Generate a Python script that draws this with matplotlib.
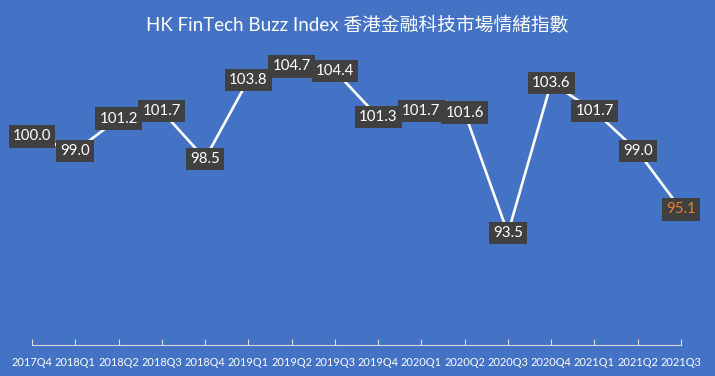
import matplotlib
matplotlib.use("Agg")
import matplotlib.pyplot as plt

quarters = ["2017Q4", "2018Q1", "2018Q2", "2018Q3", "2018Q4", "2019Q1", "2019Q2",
            "2019Q3", "2019Q4", "2020Q1", "2020Q2", "2020Q3", "2020Q4", "2021Q1",
            "2021Q2", "2021Q3"]
index_values = [100.0, 99.0, 101.2, 101.7, 98.5, 103.8, 104.7, 104.4, 101.3, 101.7,
                101.6, 93.5, 103.6, 101.7, 99.0, 95.1]

bg = "#4472C4"
fig = plt.figure(figsize=(7.15, 3.76), dpi=100, facecolor=bg)
ax = fig.add_axes([32/715, 31/376, 649/715, 298/376])
ax.set_facecolor(bg)

x = list(range(len(quarters)))
ax.plot(x, index_values, color="white", lw=1.9, solid_capstyle="round", zorder=2)

for i, (xi, v) in enumerate(zip(x, index_values)):
    color = "#ED7D31" if i == len(x) - 1 else "white"
    ax.text(xi, v, f"{v:.1f}", ha="center", va="center", fontsize=10.8,
            family=["Lato", "DejaVu Sans"], color=color, zorder=3,
            bbox=dict(boxstyle="square,pad=0.28", fc="#404040", ec="none"))

ax.set_xlim(0, len(quarters) - 1)
ax.set_ylim(86, 106)
ax.set_xticks(x)
ax.set_xticklabels(quarters, fontsize=7.9, color="white", family=["Lato", "DejaVu Sans"])
ax.tick_params(axis="x", direction="in", length=4, color="#D9D9D9", width=0.8, pad=9)
ax.set_yticks([])
for s in ["top", "right", "left"]:
    ax.spines[s].set_visible(False)
ax.spines["bottom"].set_color("#D9D9D9")
ax.spines["bottom"].set_linewidth(0.8)
ax.patch.set_visible(False)

fig.text(0.5, 1 - 25/376, "HK FinTech Buzz Index 香港金融科技市場情緒指數", ha="center", va="center",
         fontsize=13.5, color="white", family=["Lato", "Noto Sans CJK TC"])

fig.savefig("out.png", dpi=100, facecolor=bg)
